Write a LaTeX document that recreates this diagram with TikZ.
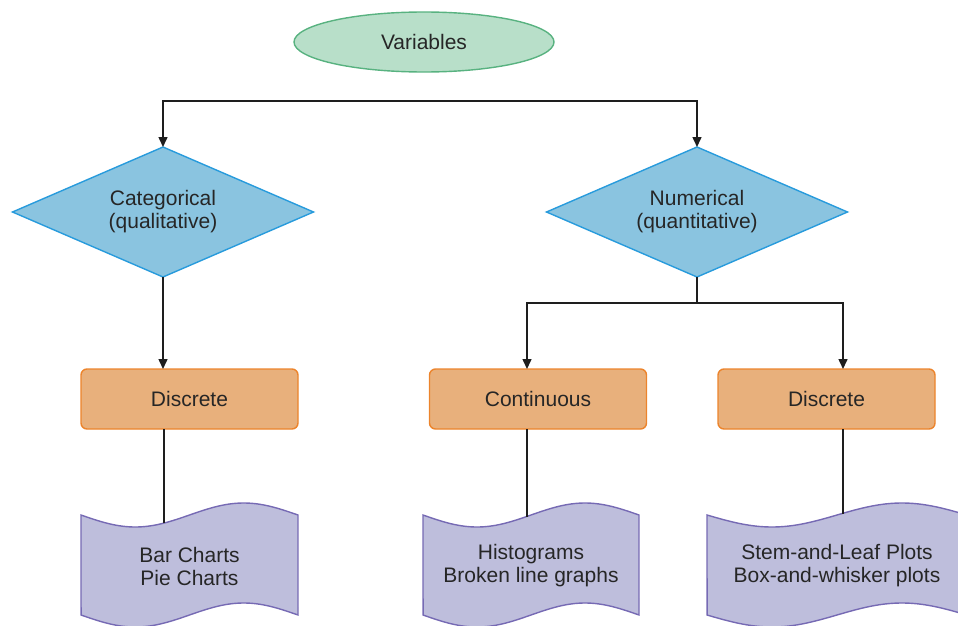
\documentclass[tikz,border=0pt]{standalone}
\usepackage{fontspec}
\setmainfont{Liberation Sans}
\usetikzlibrary{shapes.geometric,arrows.meta}
\definecolor{txt}{RGB}{38,38,38}
\definecolor{ellF}{RGB}{184,223,201}
\definecolor{ellB}{RGB}{88,178,128}
\definecolor{diaF}{RGB}{138,196,224}
\definecolor{diaB}{RGB}{40,155,220}
\definecolor{orF}{RGB}{232,176,124}
\definecolor{orB}{RGB}{236,132,44}
\definecolor{wvF}{RGB}{190,190,220}
\definecolor{wvB}{RGB}{118,106,180}
\definecolor{lineC}{RGB}{30,30,30}
\newcommand\wavepath[2]{plot[domain=0:1,samples=49,smooth] ({#1+#2*\x},{515+12*sin(360*\x)}) -- plot[domain=1:0,samples=49,smooth] ({#1+#2*\x},{615+12*sin(360*\x)}) -- cycle}
\begin{document}
\begin{tikzpicture}[x=1pt,y=-1pt,
  every node/.style={font=\fontsize{21}{23}\selectfont, text=txt, align=center, line width=1.4pt, outer sep=0pt},
  ell/.style={ellipse, draw=ellB, fill=ellF, minimum width=260pt, minimum height=60pt},
  dia/.style={diamond, draw=diaB, fill=diaF, minimum width=301pt, minimum height=130pt, aspect=2.3, inner sep=0pt},
  obox/.style={rectangle, rounded corners=6pt, draw=orB, fill=orF, minimum width=217pt, minimum height=60pt},
  wav/.style={draw=wvB, fill=wvF, line width=1.4pt},
  arr/.style={draw=lineC, line width=1.5pt, -{Triangle[length=10pt,width=9pt]}},
  ln/.style={draw=lineC, line width=1.5pt},
]
\useasboundingbox (0,0) rectangle (958,626);
\clip (0,0) rectangle (958,626);

% wave shapes
\path[wav] \wavepath{81}{217};
\path[wav] \wavepath{423}{216};
\path[wav] \wavepath{707}{260};

% nodes
\node[ell] (var) at (424,42) {Variables};
\node[dia] (cat) at (163,212) {Categorical\\(qualitative)};
\node[dia] (num) at (697,212) {Numerical\\(quantitative)};
\node[obox] (d1) at (189.5,399) {Discrete};
\node[obox] (cont) at (538,399) {Continuous};
\node[obox] (d2) at (826.5,399) {Discrete};
\node (w1) at (189.5,566) {Bar Charts\\Pie Charts};
\node (w2) at (531,566) {Histograms\\Broken line graphs};
\node (w3) at (837,566) {Stem-and-Leaf Plots\\Box-and-whisker plots};

% connector points
\coordinate (hb) at (430,101);
\coordinate (nb) at (697,303);
\coordinate (w1t) at (164,523);
\coordinate (w2t) at (527,516.5);
\coordinate (w3t) at (843,513.5);

% connectors
\draw[arr] (hb) -| (cat.north);
\draw[arr] (hb) -| (num.north);
\draw[arr] (cat.south) -- (cat.south |- d1.north);
\draw[ln] (num.south) -- (nb);
\draw[arr] (nb) -| (w2t |- cont.north);
\draw[arr] (nb) -| (w3t |- d2.north);
\draw[ln] (w1t |- d1.south) -- (w1t);
\draw[ln] (w2t |- cont.south) -- (w2t);
\draw[ln] (w3t |- d2.south) -- (w3t);
\end{tikzpicture}
\end{document}
